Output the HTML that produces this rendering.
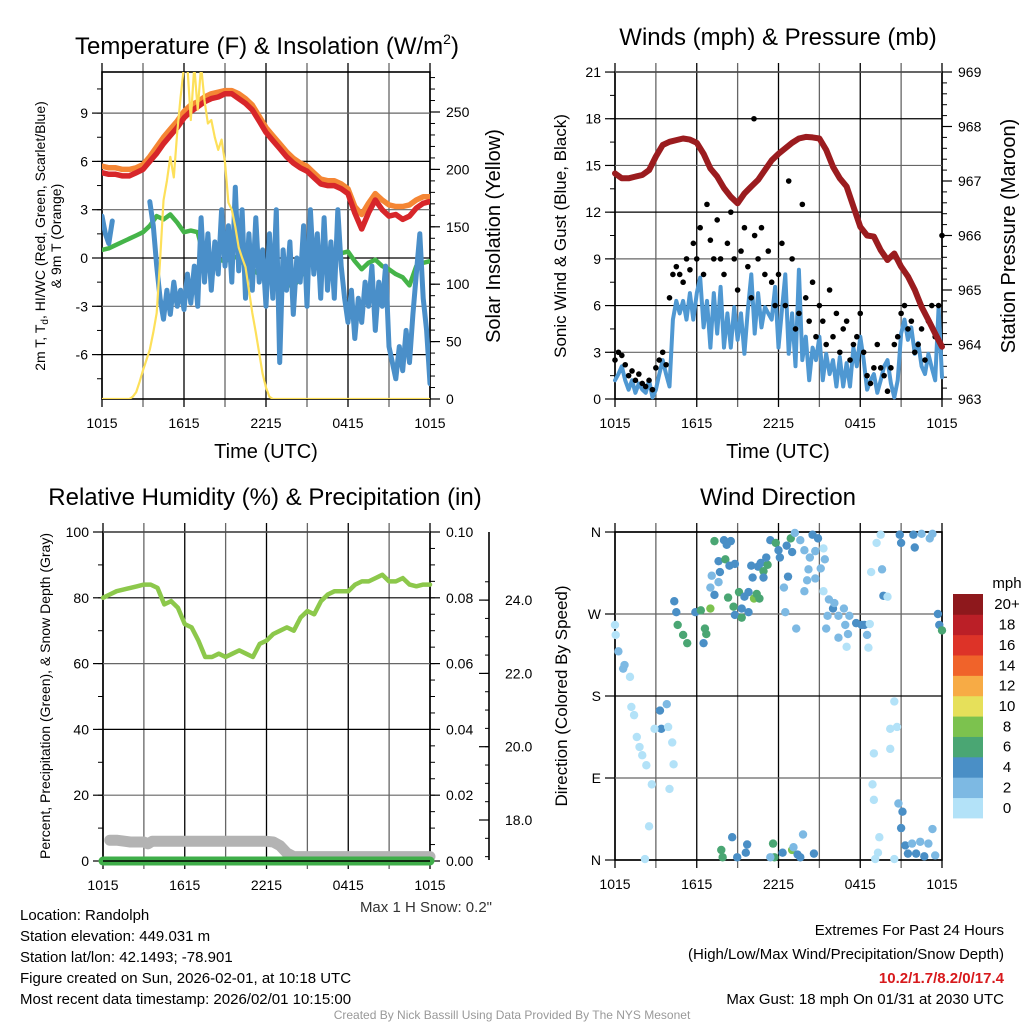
<!DOCTYPE html>
<html><head><meta charset="utf-8"><style>
html,body{margin:0;padding:0;background:#fff;}
svg{display:block;font-family:"Liberation Sans",Arial,sans-serif;}
</style></head><body>
<svg id="c" width="1024" height="1024" viewBox="0 0 1024 1024" xmlns="http://www.w3.org/2000/svg">
<defs>
<clipPath id="cp1"><rect x="102" y="72" width="328" height="327"/></clipPath>
<clipPath id="cp2"><rect x="612" y="70" width="334" height="332"/></clipPath>
</defs>
<g id="g"></g>
<text x="267" y="54" font-size="24" text-anchor="middle">Temperature (F) &amp; Insolation (W/m<tspan font-size="14" dy="-10">2</tspan><tspan dy="10">)</tspan></text>
<text x="778" y="45" font-size="24" text-anchor="middle">Winds (mph) &amp; Pressure (mb)</text>
<text x="265" y="505" font-size="24" text-anchor="middle">Relative Humidity (%) &amp; Precipitation (in)</text>
<text x="778" y="505" font-size="24" text-anchor="middle">Wind Direction</text>
<text x="266" y="458" font-size="20" text-anchor="middle">Time (UTC)</text>
<text x="778" y="458" font-size="20" text-anchor="middle">Time (UTC)</text>
<text transform="translate(45,236) rotate(-90)" font-size="14" text-anchor="middle">2m T, T<tspan font-size="10" dy="3">d</tspan><tspan dy="-3">, HI/WC (Red, Green, Scarlet/Blue)</tspan></text>
<text transform="translate(61,236) rotate(-90)" font-size="14" text-anchor="middle">&amp; 9m T (Orange)</text>
<text transform="translate(500,236) rotate(-90)" font-size="20" text-anchor="middle">Solar Insolation (Yellow)</text>
<text transform="translate(566,236) rotate(-90)" font-size="17" text-anchor="middle">Sonic Wind &amp; Gust (Blue, Black)</text>
<text transform="translate(1015,236) rotate(-90)" font-size="20" text-anchor="middle">Station Pressure (Maroon)</text>
<text transform="translate(50,696) rotate(-90)" font-size="14" text-anchor="middle">Percent, Precipitation (Green), &amp; Snow Depth (Gray)</text>
<text transform="translate(567,696) rotate(-90)" font-size="17" text-anchor="middle">Direction (Colored By Speed)</text>
<text x="492" y="912" font-size="15" fill="#333" text-anchor="end">Max 1 H Snow: 0.2"</text>
<g font-size="15">
<text x="20" y="920">Location: Randolph</text>
<text x="20" y="941">Station elevation: 449.031 m</text>
<text x="20" y="962">Station lat/lon: 42.1493; -78.901</text>
<text x="20" y="983">Figure created on Sun, 2026-02-01, at 10:18 UTC</text>
<text x="20" y="1004">Most recent data timestamp: 2026/02/01 10:15:00</text>
</g>
<g font-size="15" text-anchor="end">
<text x="1004" y="935">Extremes For Past 24 Hours</text>
<text x="1004" y="959">(High/Low/Max Wind/Precipitation/Snow Depth)</text>
<text x="1004" y="983" fill="#d7191c" font-weight="bold">10.2/1.7/8.2/0/17.4</text>
<text x="1004" y="1004">Max Gust: 18 mph On 01/31 at 2030 UTC</text>
</g>
<text x="512" y="1019" font-size="12" fill="#999" text-anchor="middle">Created By Nick Bassill Using Data Provided By The NYS Mesonet</text>
<text x="1007" y="588" font-size="15" text-anchor="middle">mph</text>
</svg>
<script>
// ---- Temperature panel data (t in hours since 1015 UTC) ----
const redT = [5.3,5.2,5.2,5.1,5.1,5.3,5.5,6.0,6.5,7.1,7.6,8.1,8.7,9.1,9.4,9.7,9.9,10.0,10.2,10.2,9.9,9.6,9.2,8.5,7.8,7.3,6.8,6.3,5.9,5.6,5.4,5.0,4.6,4.5,4.5,4.3,4.0,2.8,1.8,2.8,3.6,3.0,2.6,2.7,2.4,2.6,3.1,3.4,3.5];
const orangeT = [5.7,5.6,5.6,5.5,5.5,5.6,5.8,6.3,6.9,7.5,8.0,8.5,9.1,9.5,9.7,10.0,10.2,10.3,10.4,10.4,10.2,9.9,9.5,8.8,8.1,7.6,7.1,6.6,6.2,5.9,5.7,5.3,4.9,4.8,4.8,4.6,4.3,3.2,2.7,3.4,4.0,3.6,3.3,3.2,3.2,3.3,3.6,3.8,3.8];
const greenTd = [0.5,0.6,0.8,1.0,1.2,1.4,1.6,2.0,2.6,2.4,2.7,2.2,1.6,1.7,1.6,-0.1,-0.3,-0.1,-0.2,0.0,0.1,-0.5,-0.7,-1.0,-1.2,-1.3,-1.4,-1.6,-1.8,-1.2,-0.4,-0.3,-0.3,0.0,0.1,0.3,0.4,-0.2,-0.7,-0.3,-0.1,-0.5,-0.7,-1.0,-1.2,-1.7,-0.5,-0.3,-0.2];
const blueWC = [2.6,1.5,0.9,2.3,null,null,null,null,null,null,null,null,null,null,3.5,2.0,-0.5,-2.5,-3.8,-2.0,-3.5,-1.5,-3.0,-2.0,-3.2,-1.0,-2.8,-0.5,-3.0,2.5,-1.5,1.5,-2.0,1.0,-1.0,3.0,-0.5,2.0,-1.5,4.4,-0.8,3.0,-2.5,1.5,-2.0,2.5,-1.5,0.5,-3.0,1.5,-2.5,3.0,-6.5,0.5,-2.0,1.0,-3.5,0.0,-1.5,2.0,-3.0,3.0,-1.0,1.5,-2.5,2.5,-2.0,1.0,-2.5,3.0,-0.5,-2.5,-4.0,-2.0,-5.0,-2.5,-4.0,-1.5,-3.0,-0.5,-4.5,-1.5,-3.0,-0.5,-5.5,-6.5,-7.5,-5.5,-7.0,-4.5,-6.5,-3.5,-1.0,1.5,-2.5,-4.5,-7.8];
const solar = [0,0,0,0,0,0,0,0,0,2,6,15,25,34,43,58,75,121,173,190,211,193,232,263,290,290,243,290,252,290,260,240,243,228,217,226,206,171,165,150,132,123,115,95,75,58,40,22,10,2,0,0,0,0,0,0,0,0,0,0,0,0,0,0,0,0,0,0,0,0,0,0,0,0,0,0,0,0,0,0,0,0,0,0,0,0,0,0,0,0,0,0,0,0,0,0,0];
// ---- Winds panel data ----
const windSpd = [1.2,1.6,2.1,1.2,0.6,1.2,0.4,1.0,0.6,0.4,1.2,0.1,0.6,1.6,2.5,1.6,0.8,5.1,6.3,5.5,6.3,5.1,6.8,5.1,6.8,7.8,4.6,6.3,3.3,6.8,4.2,7.2,3.3,5.5,3.3,5.9,3.8,5.5,2.9,5.7,8.0,4.2,6.8,4.6,5.9,5.5,5.1,7.2,3.3,5.7,8.0,2.9,5.5,2.1,8.3,2.5,4.0,1.2,3.3,2.5,4.0,1.2,2.9,1.6,2.5,0.8,2.7,0.8,2.3,0.8,3.3,2.1,4.0,2.5,0.6,1.2,1.6,0.4,1.2,2.1,2.5,1.0,0.1,1.2,4.2,5.1,3.8,4.6,2.9,3.6,2.1,1.6,2.9,2.0,1.2,5.9,1.4];
const gustSpd = [2.5,3.0,2.8,2.2,1.5,1.8,1.2,1.6,1.0,0.8,1.2,0.6,2.0,2.5,3.0,2.2,6.5,8.0,8.5,8.0,7.5,9.0,8.3,10.0,9.0,11.0,8.0,12.5,10.2,9.0,11.5,9.0,8.0,10.0,12.0,9.0,7.0,9.5,11.0,8.5,6.5,10.5,9.0,11.0,8.0,9.5,7.5,6.0,8.0,10.0,6.0,14.0,9.0,4.5,5.5,12.5,6.5,5.0,7.5,4.0,6.0,5.0,3.5,7.0,4.0,5.5,3.0,4.5,5.0,2.5,3.5,4.0,5.5,3.0,1.5,1.0,2.0,3.5,2.0,1.5,0.5,2.0,3.5,4.0,5.5,6.0,4.5,5.0,3.0,3.5,4.5,2.5,5.0,6.0,4.0,6.0,10.5];
const gustExtraT = [10.2];
const gustExtraV = [18.0];
const presT = [0,0.5,1,1.5,2,2.5,3,3.5,4,4.5,5,5.5,6,6.5,7,7.5,8,8.5,9,9.5,10,10.5,11,11.5,12,12.5,13,13.5,14,14.5,15,15.5,16,16.5,17,17.5,18,18.5,19,19.5,20,20.5,21,21.5,22,22.5,23,23.5,24];
const presV = [967.14,967.05,967.05,967.08,967.11,967.2,967.45,967.66,967.72,967.75,967.78,967.76,967.7,967.5,967.23,967.08,966.87,966.71,966.59,966.77,966.9,967.02,967.2,967.38,967.5,967.6,967.7,967.78,967.81,967.8,967.78,967.57,967.26,967.05,966.9,966.53,966.16,966.0,965.98,965.73,965.55,965.67,965.43,965.25,965.0,964.69,964.45,964.2,963.96];
// ---- Humidity panel data ----
const rhV = [80,81,82,82.5,83,83.5,84,84,83,78,79,77,72,71,67,62,62,63,62,63,64,63,62,66,67,69,70,71,70,74,76,75,79,81,82,82,82,84,85,85,86,87,85,85,86,84,83.5,84,84];
const precipV = [0,0,0,0,0,0,0,0,0,0,0,0,0,0,0,0,0,0,0,0,0,0,0,0,0,0,0,0,0,0,0,0,0,0,0,0,0,0,0,0,0,0,0,0,0,0,0,0,0];
const snowT = [0.5,1,2,3,3.3,3.6,5,7,9,10,11,12,12.5,13,13.5,14,16,20,24];
const snowV = [17.45,17.45,17.4,17.4,17.35,17.42,17.42,17.42,17.42,17.42,17.42,17.42,17.4,17.3,17.1,17.0,17.0,17.0,17.0];
// ---- Wind direction data ----
const dirT = [0,0.05,0.25,0.6,0.7,1.1,1.2,1.4,1.6,1.8,2.0,2.3,2.7,2.5,2.2,3.3,3.8,3.4,2.9,3.9,4.2,4.3,4.0,4.35,4.5,4.6,5.0,5.3,5.9,6.3,6.6,6.7,6.5,7.0,7.0,7.1,7.3,7.6,7.7,7.6,7.3,8.0,8.5,8.2,8.1,8.4,8.8,8.3,8.7,8.8,9.1,9.3,9.3,9.8,9.5,9.8,10.2,10.4,10.6,10.0,10.5,10.7,10.9,11.2,11.1,10.1,10.9,11.4,11.8,12.1,12.0,12.6,12.9,12.4,12.5,12.7,13.0,13.3,13.2,13.6,13.9,14.3,14.2,14.1,13.9,14.5,14.9,14.7,14.7,15.1,15.4,15.3,15.3,15.7,16.0,16.1,15.6,15.5,16.4,16.8,16.9,16.4,17.1,17.2,17.7,17.0,18.1,18.3,18.7,18.5,18.6,18.8,19.5,19.2,19.6,19.7,20.0,20.5,20.7,20.2,20.2,19.0,18.9,19.0,19.4,19.3,19.1,20.5,20.8,21.1,21.0,21.3,21.5,21.8,22.4,22.1,22.7,23.0,23.3,23.5,20.9,21.0,21.9,22.0,22.5,23.1,23.3,23.7,23.8,24.0,8.6,7.8,7.9,8.97,9.6,9.7,11.6,11.7,12.3,13.0,13.4,13.6,13.8,14.6,11.4,13.1];
const dirDeg = [258,247,229,210,214,201,168,159,135,124,115,104,83,37,1,164,171,144,144,146,129,105,78,284,272,258,247,238,272,274,254,248,238,276,299,312,291,305,316,328,350,351,350,346,330,323,325,288,278,269,294,276,266,272,289,294,287,292,287,323,322,326,317,324,332,310,310,351,348,332,340,345,353,299,272,311,338,254,359,351,340,332,319,307,295,357,353,339,309,320,330,295,342,286,276,282,268,254,268,276,258,244,248,268,260,234,258,258,259,247,233,316,357,348,319,290,289,174,146,144,122,117,83,66,25,8,1,1,62,53,35,16,7,18,20,7,4,18,34,5,357,348,357,343,358,353,358,270,258,252,25,11,3,3,8,17,18,3,8,11,6,3,28,7,3,14];
const dirSpd = [1,1,3,3,3,1,1,1,1,1,1,1,1,1,1,5,3,5,1,1,1,1,1,5,5,7,7,7,5,7,7,7,5,9,3,3,5,3,5,5,7,5,5,5,7,5,5,7,7,5,7,5,7,5,5,5,9,7,7,5,5,5,7,7,5,5,5,5,7,5,5,5,7,3,3,5,5,3,3,3,3,3,3,3,3,5,5,3,3,3,3,1,1,3,5,3,3,3,3,3,3,3,3,3,5,1,5,5,1,3,1,1,1,1,3,5,1,1,1,1,1,1,1,1,1,1,1,1,3,5,5,5,5,3,3,5,5,3,3,3,5,5,5,5,3,3,3,5,5,7,5,7,7,5,5,5,7,7,5,9,5,5,3,5,3,3];
const binColors = ['#b3e2f8','#7db9e3','#4a8fc6','#4aa673','#7cc24e','#e6e05a','#f7ab45','#f0632a','#dd3328','#bb1f27','#8e181c'];
const binLabels = ['0','2','4','6','8','10','12','14','16','18','20+'];
const xTickLabels = ['1015','1615','2215','0415','1015'];

const NS='http://www.w3.org/2000/svg';
const G=document.getElementById('g');
function mk(tag,attrs,parent){const e=document.createElementNS(NS,tag);for(const k in attrs)e.setAttribute(k,attrs[k]);(parent||G).appendChild(e);return e;}
function txt(x,y,s,anchor,size,parent){const t=mk('text',{x:x,y:y,'text-anchor':anchor,'font-size':size||14},parent);t.textContent=s;return t;}

function pathFrom(ts,vs,xs,ys){let d='',pen=false;for(let i=0;i<vs.length;i++){if(vs[i]===null||vs[i]===undefined){pen=false;continue;}const X=xs(ts[i]).toFixed(1),Y=ys(vs[i]).toFixed(1);d+=(pen?'L':'M')+X+' '+Y;pen=true;}return d;}
function stepT(n,step){const a=[];for(let i=0;i<n;i++)a.push(i*step);return a;}

function frame(x0,x1,y0,y1,name){
  const f=mk('g',{});
  
  
  for(let h=0;h<=24;h+=3){const X=x0+(x1-x0)*h/24;
    const l=mk('line',{x1:X,x2:X,y1:y0-9,y2:y1+8,stroke:(h%6===0)?'#000':'#666','stroke-width':1.3},f);
    
    
  }
  xTickLabels.forEach((s,i)=>{const X=x0+(x1-x0)*i/4;const t=txt(X,y1+29,s,'middle',14,f);
    
    });
  mk('rect',{x:x0,y:y0,width:x1-x0,height:y1-y0,fill:'none',stroke:'#000','stroke-width':1.6},f);
  return f;
}
function yAxis(X,vals,ys,labels,side,minorStep,lo,hi,grid,x0,x1,parent){
  const dir=side==='left'?-1:1;
  for(let v=lo;v<=hi+1e-9;v+=minorStep){const Y=ys(v);mk('line',{x1:X,x2:X+dir*5,y1:Y,y2:Y,stroke:'#000','stroke-width':1},parent);}
  vals.forEach((v,i)=>{const Y=ys(v);
    mk('line',{x1:X,x2:X+dir*10,y1:Y,y2:Y,stroke:'#000','stroke-width':1.2},parent);
    if(grid){const gl=mk('line',{x1:x0,x2:x1,y1:Y,y2:Y,stroke:(i%2)?'#666':'#000','stroke-width':1.2},parent);
      
      }
    const t=txt(X+dir*(side==='left'?14:16),Y+5,labels[i],side==='left'?'end':'start',14,parent);
    
    
  });
}

// ===== Panel 1: temperature =====
(function(){
  const x0=102,x1=430,y0=72,y1=399;
  const xs=t=>x0+(x1-x0)*t/24, ys=v=>258-v*16.1, yr=w=>399-w*1.148;
  const f=frame(x0,x1,y0,y1,'temperature');
  yAxis(x0,[-6,-3,0,3,6,9],ys,['-6','-3','0','3','6','9'],'left',1.5,-7.5,10.5,true,x0,x1,f);
  yAxis(x1,[0,50,100,150,200,250],yr,['0','50','100','150','200','250'],'right',10,0,280,false,x0,x1,f);
  const cg=mk('g',{'clip-path':'url(#cp1)'});
  const t5=stepT(49,0.5), t25=stepT(97,0.25);
  let p;
  p=mk('path',{d:pathFrom(t5,orangeT,xs,ys),fill:'none',stroke:'#f58634','stroke-width':5.5,'stroke-linejoin':'round','stroke-linecap':'round'},cg);
  
  
  p=mk('path',{d:pathFrom(t5,redT,xs,ys),fill:'none',stroke:'#d7262a','stroke-width':5.5,'stroke-linejoin':'round','stroke-linecap':'round'},cg);
  
  
  p=mk('path',{d:pathFrom(t5,greenTd,xs,ys),fill:'none',stroke:'#45b449','stroke-width':4.5,'stroke-linejoin':'round','stroke-linecap':'round'},cg);
  
  
  p=mk('path',{d:pathFrom(t25,blueWC,xs,ys),fill:'none',stroke:'#4a8fc9','stroke-width':5,'stroke-linejoin':'round','stroke-linecap':'round'},cg);
  
  
  p=mk('path',{d:pathFrom(t25,solar,xs,yr),fill:'none',stroke:'#fde05a','stroke-width':2.2,'stroke-linejoin':'round'},cg);
  
  
})();

// ===== Panel 2: winds =====
(function(){
  const x0=615,x1=942,y0=72,y1=399;
  const xs=t=>x0+(x1-x0)*t/24, ys=v=>399-v*15.57, yp=p=>399-(p-963)*54.5;
  const f=frame(x0,x1,y0,y1,'winds');
  yAxis(x0,[0,3,6,9,12,15,18,21],ys,['0','3','6','9','12','15','18','21'],'left',1.5,0,21,true,x0,x1,f);
  yAxis(x1,[963,964,965,966,967,968,969],yp,['963','964','965','966','967','968','969'],'right',0.2,963,969,false,x0,x1,f);
  const cg=mk('g',{'clip-path':'url(#cp2)'});
  const t25=stepT(97,0.25);
  let p=mk('path',{d:pathFrom(t25,windSpd,xs,ys),fill:'none',stroke:'#4f98d2','stroke-width':4,'stroke-linejoin':'round','stroke-linecap':'round'},cg);
  
  
  gustSpd.forEach((v,i)=>{const c=mk('circle',{cx:xs(t25[i]),cy:ys(v),r:2.8,fill:'#000'},cg);
    
    });
  gustExtraT.forEach((t,i)=>{const c=mk('circle',{cx:xs(t),cy:ys(gustExtraV[i]),r:2.8,fill:'#000'},cg);
    
    });
  p=mk('path',{d:pathFrom(presT,presV,xs,yp),fill:'none',stroke:'#9b1c1f','stroke-width':6,'stroke-linejoin':'round','stroke-linecap':'round'},cg);
  
  
})();

// ===== Panel 3: humidity =====
(function(){
  const x0=103,x1=430,y0=532,y1=861;
  const xs=t=>x0+(x1-x0)*t/24, ys=v=>861-v*3.29, yp=v=>861-v*3290, ysn=s=>820-(s-18)*36.65;
  const f=frame(x0,x1,y0,y1,'humidity');
  yAxis(x0,[0,20,40,60,80,100],ys,['0','20','40','60','80','100'],'left',10,0,100,true,x0,x1,f);
  yAxis(x1,[0,0.02,0.04,0.06,0.08,0.10],yp,['0.00','0.02','0.04','0.06','0.08','0.10'],'right',0.005,0,0.1,false,x0,x1,f);
  const ax=mk('g',{});
  
  
  mk('line',{x1:489,x2:489,y1:532,y2:860,stroke:'#000','stroke-width':1.6},ax);
  for(let s=17;s<=24.9;s+=0.5){const Y=ysn(s);mk('line',{x1:489,x2:485,y1:Y,y2:Y,stroke:'#000','stroke-width':1},ax);}
  [18,20,22,24].forEach(s=>{const Y=ysn(s);mk('line',{x1:489,x2:479,y1:Y,y2:Y,stroke:'#000','stroke-width':1.2},ax);
    const t=txt(505,Y+5,s.toFixed(1),'start',14,ax);
    
    });
  const t5=stepT(49,0.5);
  let p=mk('path',{d:pathFrom(snowT,snowV,xs,ysn),fill:'none',stroke:'#b3b3b3','stroke-width':11,'stroke-linejoin':'round','stroke-linecap':'round'});
  
  
  p=mk('path',{d:pathFrom(t5,precipV,xs,yp),fill:'none',stroke:'#3fae49','stroke-width':9,'stroke-linecap':'round'});
  
  
  mk('line',{x1:x0,x2:x1,y1:y1,y2:y1,stroke:'#000','stroke-width':1.6});
  p=mk('path',{d:pathFrom(t5,rhV,xs,ys),fill:'none',stroke:'#8cc84b','stroke-width':4.5,'stroke-linejoin':'round','stroke-linecap':'round'});
  
  
})();

// ===== Panel 4: wind direction =====
(function(){
  const x0=615,x1=942,y0=532,y1=860;
  const xs=t=>x0+(x1-x0)*t/24, yd=d=>860-d*0.9111;
  const f=frame(x0,x1,y0,y1,'direction');
  yAxis(x0,[0,90,180,270,360],yd,['N','E','S','W','N'],'left',90,0,360,true,x0,x1,f);
  dirT.forEach((t,i)=>{const b=Math.min(10,Math.floor(dirSpd[i]/2));
    const c=mk('circle',{cx:xs(t),cy:yd(dirDeg[i]),r:4.2,fill:binColors[b]});
    
    });
  const cb=mk('g',{});
  
  
  const segH=(818-594)/11;
  binColors.forEach((col,i)=>{const Y=818-(i+1)*segH;
    const r=mk('rect',{x:953,y:Y,width:30,height:segH+0.4,fill:col},cb);
    
    
    const t=txt(1007,Y+segH/2+5,binLabels[i],'middle',15,cb);
    
    });
})();
</script>
</body></html>
